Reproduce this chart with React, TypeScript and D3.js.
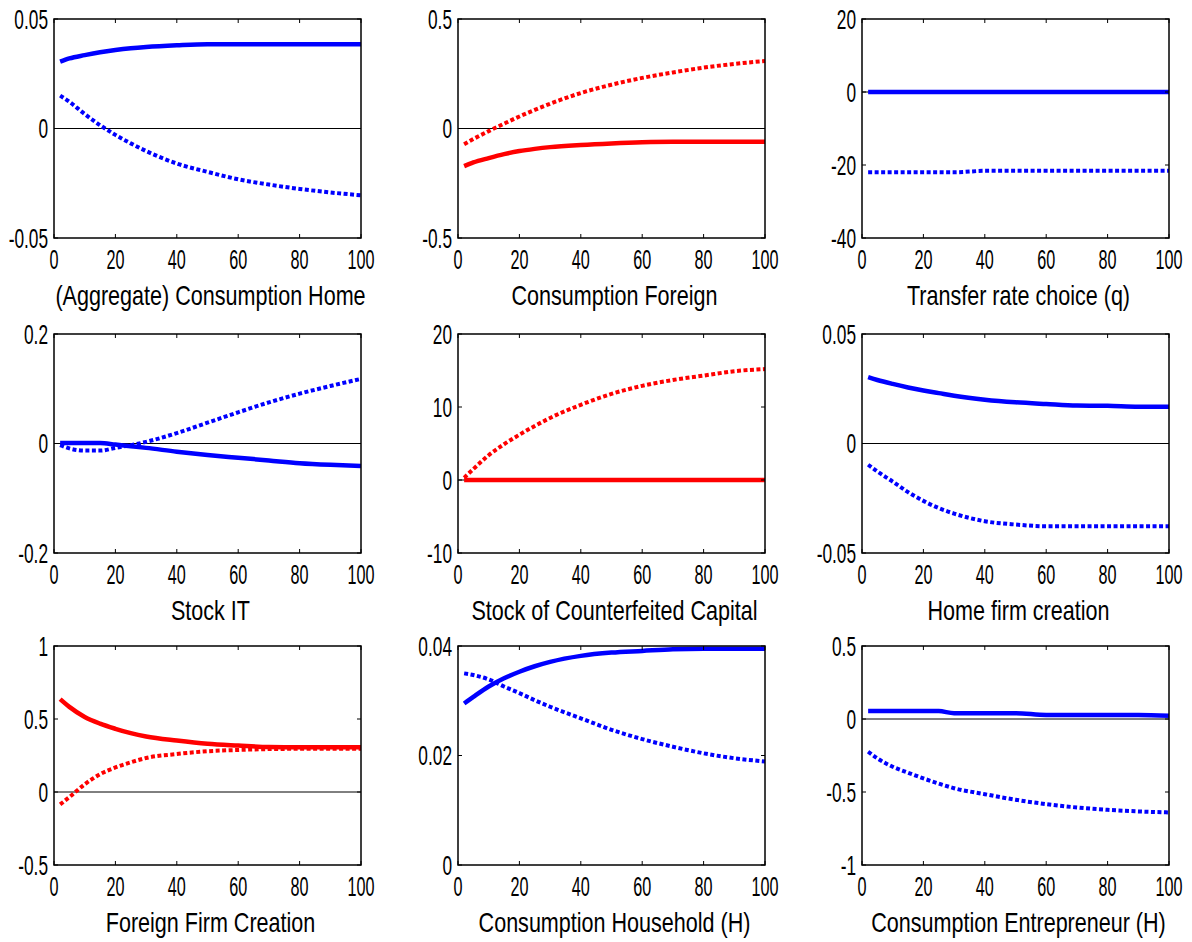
import React from "react";
import * as d3 from "d3";

// horizon (periods) shared by every panel
const STEPS = [2, 5, 10, 15, 20, 25, 30, 40, 50, 60, 70, 80, 90, 100];
const X_TICKS = [0, 20, 40, 60, 80, 100];

// series values
const consHomeSolid = [0.0305, 0.032, 0.0335, 0.0348, 0.0358, 0.0366, 0.0372, 0.038, 0.0385, 0.0385, 0.0385, 0.0385, 0.0385, 0.0385];
const consHomeDotted = [0.015, 0.0122, 0.0066, 0.0015, -0.0029, -0.0068, -0.0103, -0.016, -0.0198, -0.0232, -0.0256, -0.0276, -0.0292, -0.0305];

const consForeignSolid = [-0.172, -0.155, -0.135, -0.117, -0.103, -0.093, -0.085, -0.075, -0.068, -0.063, -0.061, -0.061, -0.061, -0.061];
const consForeignDotted = [-0.072, -0.048, -0.012, 0.022, 0.055, 0.085, 0.113, 0.162, 0.2, 0.231, 0.256, 0.278, 0.295, 0.308];

const transferSolid = [0, 0, 0, 0, 0, 0, 0, 0, 0, 0, 0, 0, 0, 0];
const transferDotted = [-22, -22, -22, -22, -22, -22, -22, -21.6, -21.6, -21.6, -21.6, -21.6, -21.6, -21.6];

const stockITSolid = [0.001, 0.001, 0.001, 0.001, -0.002, -0.005, -0.008, -0.015, -0.021, -0.026, -0.031, -0.036, -0.039, -0.041];
const stockITDotted = [-0.003, -0.009, -0.013, -0.013, -0.008, -0.003, 0.003, 0.019, 0.038, 0.057, 0.075, 0.091, 0.105, 0.118];

const counterfeitSolid = [0, 0, 0, 0, 0, 0, 0, 0, 0, 0, 0, 0, 0, 0];
const counterfeitDotted = [0.3, 1.5, 3.4, 4.9, 6.2, 7.4, 8.5, 10.3, 11.8, 12.9, 13.7, 14.3, 14.9, 15.2];

const homeFirmSolid = [0.0303, 0.029, 0.0272, 0.0256, 0.0242, 0.023, 0.0218, 0.02, 0.0188, 0.018, 0.0173, 0.0172, 0.0168, 0.0168];
const homeFirmDotted = [-0.0097, -0.0128, -0.0174, -0.0222, -0.0262, -0.0295, -0.032, -0.0355, -0.037, -0.0378, -0.0378, -0.0378, -0.0378, -0.0378];

const foreignFirmSolid = [0.636, 0.583, 0.514, 0.468, 0.433, 0.403, 0.38, 0.352, 0.33, 0.318, 0.308, 0.306, 0.306, 0.306];
const foreignFirmDotted = [-0.085, -0.035, 0.053, 0.122, 0.168, 0.203, 0.233, 0.26, 0.279, 0.288, 0.294, 0.296, 0.297, 0.297];

const consHouseSolid = [0.0295, 0.0307, 0.0326, 0.0341, 0.0353, 0.0363, 0.0371, 0.0382, 0.0388, 0.0391, 0.0394, 0.0395, 0.0395, 0.0395];
const consHouseDotted = [0.035, 0.0347, 0.0339, 0.0326, 0.0314, 0.0301, 0.0289, 0.0268, 0.0247, 0.023, 0.0216, 0.0204, 0.0195, 0.0189];

const consEntSolid = [0.055, 0.055, 0.055, 0.055, 0.055, 0.054, 0.04, 0.04, 0.04, 0.028, 0.028, 0.027, 0.027, 0.022];
const consEntDotted = [-0.224, -0.27, -0.327, -0.368, -0.407, -0.442, -0.474, -0.515, -0.553, -0.583, -0.606, -0.622, -0.633, -0.64];

const panels = [
  { title: "(Aggregate) Consumption Home", color: "#0000ff", domain: [-0.05, 0.05], ticks: [-0.05, 0, 0.05], labels: ["-0.05", "0", "0.05"], solid: consHomeSolid, dotted: consHomeDotted },
  { title: "Consumption Foreign", color: "#ff0000", domain: [-0.5, 0.5], ticks: [-0.5, 0, 0.5], labels: ["-0.5", "0", "0.5"], solid: consForeignSolid, dotted: consForeignDotted },
  { title: "Transfer rate choice (q)", color: "#0000ff", domain: [-40, 20], ticks: [-40, -20, 0, 20], labels: ["-40", "-20", "0", "20"], solid: transferSolid, dotted: transferDotted },
  { title: "Stock IT", color: "#0000ff", domain: [-0.2, 0.2], ticks: [-0.2, 0, 0.2], labels: ["-0.2", "0", "0.2"], solid: stockITSolid, dotted: stockITDotted },
  { title: "Stock of Counterfeited Capital", color: "#ff0000", domain: [-10, 20], ticks: [-10, 0, 10, 20], labels: ["-10", "0", "10", "20"], solid: counterfeitSolid, dotted: counterfeitDotted },
  { title: "Home firm creation", color: "#0000ff", domain: [-0.05, 0.05], ticks: [-0.05, 0, 0.05], labels: ["-0.05", "0", "0.05"], solid: homeFirmSolid, dotted: homeFirmDotted },
  { title: "Foreign Firm Creation", color: "#ff0000", domain: [-0.5, 1], ticks: [-0.5, 0, 0.5, 1], labels: ["-0.5", "0", "0.5", "1"], solid: foreignFirmSolid, dotted: foreignFirmDotted },
  { title: "Consumption Household (H)", color: "#0000ff", domain: [0, 0.04], ticks: [0, 0.02, 0.04], labels: ["0", "0.02", "0.04"], solid: consHouseSolid, dotted: consHouseDotted },
  { title: "Consumption Entrepreneur (H)", color: "#0000ff", domain: [-1, 0.5], ticks: [-1, -0.5, 0, 0.5], labels: ["-1", "-0.5", "0", "0.5"], solid: consEntSolid, dotted: consEntDotted },
];

const COL_LEFT = [54, 458, 862];
const ROW_TOP = [19, 334, 646];
const PW = 307;
const PH = 219;
const FONT = "'Liberation Sans', Arial, sans-serif";

function Label({ x, y, size, sx, anchor, children }) {
  return (
    <text
      transform={`translate(${x},${y}) scale(${sx},1)`}
      fontSize={size}
      fontFamily={FONT}
      textAnchor={anchor}
      fill="#000"
    >
      {children}
    </text>
  );
}

function Panel({ p, left, top }) {
  const x = d3.scaleLinear().domain([0, 100]).range([left, left + PW]);
  const y = d3.scaleLinear().domain(p.domain).range([top + PH, top]);
  const line = d3
    .line()
    .x((d) => x(d[0]))
    .y((d) => y(d[1]))
    .curve(d3.curveMonotoneX);
  const solidPts = STEPS.map((s, i) => [s, p.solid[i]]);
  const dottedPts = STEPS.map((s, i) => [s, p.dotted[i]]);
  const tl = 4;

  return (
    <g>
      {p.domain[0] < 0 && (
        <line x1={x(0)} x2={x(100)} y1={y(0)} y2={y(0)} stroke="#000" strokeWidth={1} />
      )}
      <path d={line(dottedPts)} fill="none" stroke={p.color} strokeWidth={4} strokeDasharray="4,2.5" />
      <path d={line(solidPts)} fill="none" stroke={p.color} strokeWidth={4.5} strokeLinejoin="round" />
      <rect x={left} y={top} width={PW} height={PH} fill="none" stroke="#000" strokeWidth={1.5} />
      {X_TICKS.map((t) => (
        <g key={"x" + t}>
          <line x1={x(t)} x2={x(t)} y1={top + PH} y2={top + PH - tl} stroke="#000" strokeWidth={1} />
          <line x1={x(t)} x2={x(t)} y1={top} y2={top + tl} stroke="#000" strokeWidth={1} />
          <Label x={x(t)} y={top + PH + 31} size={27} sx={0.6} anchor="middle">
            {String(t)}
          </Label>
        </g>
      ))}
      {p.ticks.map((t, i) => (
        <g key={"y" + t}>
          <line x1={left} x2={left + tl} y1={y(t)} y2={y(t)} stroke="#000" strokeWidth={1} />
          <line x1={left + PW} x2={left + PW - tl} y1={y(t)} y2={y(t)} stroke="#000" strokeWidth={1} />
          <Label x={left - 6} y={y(t) + 9.7} size={27} sx={0.64} anchor="end">
            {p.labels[i]}
          </Label>
        </g>
      ))}
      <Label x={left + PW / 2 + 3} y={top + PH + 67} size={28} sx={0.77} anchor="middle">
        {p.title}
      </Label>
    </g>
  );
}

export default function App() {
  return (
    <svg
      width={1192}
      height={942}
      style={{ position: "absolute", left: 0, top: 0, background: "#fff" }}
    >
      <rect width={1192} height={942} fill="#fff" />
      {panels.map((p, i) => (
        <Panel key={p.title} p={p} left={COL_LEFT[i % 3]} top={ROW_TOP[Math.floor(i / 3)]} />
      ))}
    </svg>
  );
}
